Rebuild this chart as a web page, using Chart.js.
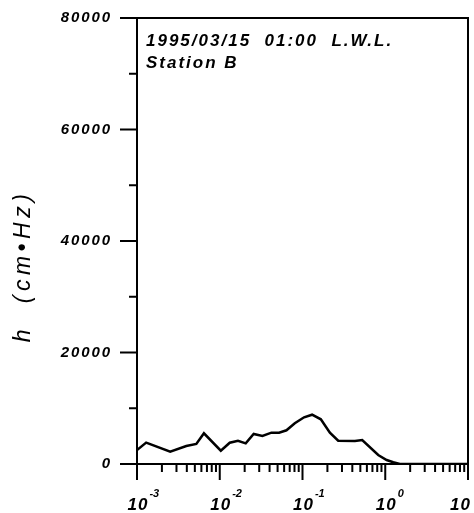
<!DOCTYPE html>
<html>
<head>
<meta charset="utf-8">
<script src="https://cdn.jsdelivr.net/npm/chart.js@4.4.1/dist/chart.umd.min.js"></script>
<style>
  html, body { margin: 0; padding: 0; background: #fff; }
  #wrap { width: 474px; height: 513px; }
</style>
</head>
<body>
<div id="wrap"><canvas id="spec" width="474" height="513"></canvas></div>
<script>
// Spectrum: frequency (Hz) and h (cm.Hz)
const freq = [0.001, 0.00129, 0.00252, 0.00394, 0.00521, 0.00644, 0.0103, 0.0132, 0.0166, 0.0206,
              0.0257, 0.0328, 0.0421, 0.0521, 0.064, 0.0807, 0.1045, 0.1306, 0.1666, 0.2143,
              0.27, 0.43, 0.527, 0.822, 1.04, 1.25, 1.5, 10];
const hVal = [2510, 3830, 2210, 3230, 3590, 5510, 2390, 3820, 4180, 3710,
              5380, 5020, 5620, 5620, 6050, 7300, 8380, 8840, 8020, 5620,
              4180, 4130, 4310, 1610, 720, 310, 0, 0];

const yTicks = [0, 20000, 40000, 60000, 80000];
const yMinorTicks = [10000, 30000, 50000, 70000];
const decades = [-3, -2, -1, 0, 1];
const titleLines = ['1995/03/15  01:00  L.W.L.', 'Station B'];
const yTitle = 'h  (cm\u2022Hz)';

const FONT = '"Liberation Sans", Arial, Helvetica, sans-serif';

// draws the frame, tick marks, log-axis labels and the text block
const decorations = {
    id: 'decorations',
    beforeDraw(chart) {
        chart.ctx.letterSpacing = '1.9px'; // y tick labels are widely tracked
    },
    afterDraw(chart) {
        const ctx = chart.ctx;
        const area = chart.chartArea;
        const xs = chart.scales.x;
        const ys = chart.scales.y;
        ctx.save();
        ctx.strokeStyle = '#000';
        ctx.fillStyle = '#000';
        ctx.lineWidth = 2;
        ctx.lineCap = 'butt';

        // frame
        ctx.strokeRect(area.left, area.top, area.right - area.left, area.bottom - area.top);

        // y ticks (outside, to the left)
        ctx.beginPath();
        yTicks.forEach(v => {
            const y = ys.getPixelForValue(v);
            ctx.moveTo(area.left - 17, y);
            ctx.lineTo(area.left, y);
        });
        yMinorTicks.forEach(v => {
            const y = ys.getPixelForValue(v);
            ctx.moveTo(area.left - 8, y);
            ctx.lineTo(area.left, y);
        });
        // x ticks (outside, downward)
        decades.forEach(d => {
            const x = xs.getPixelForValue(Math.pow(10, d));
            ctx.moveTo(x, area.bottom);
            ctx.lineTo(x, area.bottom + 16);
            if (d < 1) {
                for (let m = 2; m <= 9; m++) {
                    const xm = xs.getPixelForValue(m * Math.pow(10, d));
                    ctx.moveTo(xm, area.bottom);
                    ctx.lineTo(xm, area.bottom + 8);
                }
            }
        });
        ctx.stroke();

        // x labels: 10 with superscript exponent
        ctx.textBaseline = 'alphabetic';
        ctx.textAlign = 'left';
        decades.forEach(d => {
            const x = xs.getPixelForValue(Math.pow(10, d));
            ctx.font = 'italic bold 17px ' + FONT;
            ctx.letterSpacing = '1px';
            const w = ctx.measureText('10').width;
            let left = x - w / 2 + 1;
            if (left + w > chart.width - 3) left = chart.width - 3 - w;
            ctx.fillText('10', left, 510);
            ctx.font = 'italic bold 11px ' + FONT;
            ctx.letterSpacing = '0px';
            if (left + w + 8 < chart.width) ctx.fillText(String(d), left + w + 1, 497);
        });

        // text block in the upper left
        ctx.font = 'italic bold 17px ' + FONT;
        ctx.letterSpacing = '2px';
        ctx.fillText(titleLines[0], 146, 46);
        ctx.fillText(titleLines[1], 146, 68);

        // y axis title
        ctx.font = 'italic 23px ' + FONT;
        ctx.letterSpacing = '4.5px';
        ctx.textAlign = 'center';
        ctx.textBaseline = 'middle';
        ctx.translate(24, 266);
        ctx.rotate(-Math.PI / 2);
        ctx.fillText(yTitle, 0, 0);
        ctx.restore();
        ctx.letterSpacing = '0px';
    }
};

const ctx = document.getElementById('spec').getContext('2d');
const specChart = new Chart(ctx, {
    type: 'line',
    data: {
        datasets: [{
            data: freq.map((f, i) => ({ x: f, y: hVal[i] })),
            borderColor: '#000',
            borderWidth: 2.5,
            pointRadius: 0,
            tension: 0,
            fill: false
        }]
    },
    options: {
        responsive: false,
        animation: false,
        layout: { padding: { top: 18, right: 6, left: 0, bottom: 0 } },
        plugins: { legend: { display: false }, tooltip: { enabled: false } },
        scales: {
            x: {
                type: 'logarithmic',
                min: 0.001,
                max: 10,
                ticks: { display: false },
                grid: { display: false },
                border: { display: false },
                afterFit(scale) { scale.height = 49; }
            },
            y: {
                min: 0,
                max: 80000,
                ticks: {
                    stepSize: 20000,
                    color: '#000',
                    padding: 8,
                    font: { family: FONT, size: 15, style: 'italic', weight: 'bold' },
                    callback: v => String(v)
                },
                grid: { drawOnChartArea: false, tickLength: 17, color: 'rgba(0,0,0,0)' },
                border: { display: false },
                afterFit(scale) { scale.width = 137; }
            }
        }
    },
    plugins: [decorations]
});
</script>
</body>
</html>
